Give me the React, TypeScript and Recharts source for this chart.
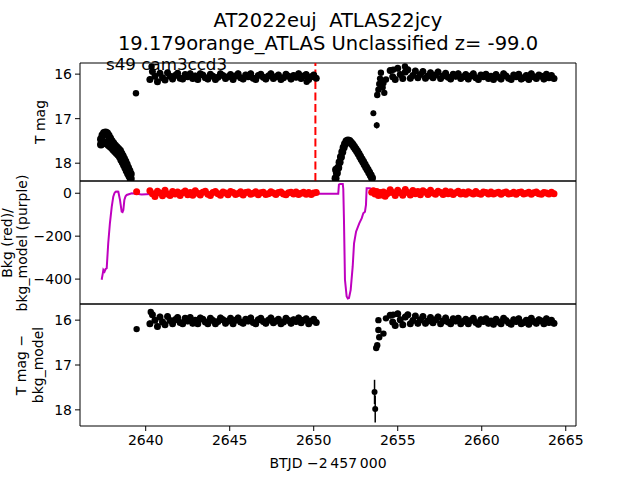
import {
  ComposedChart,
  Scatter,
  Line,
  XAxis,
  YAxis,
  ReferenceArea,
  ReferenceLine,
  ErrorBar,
} from "recharts";

const font = "DejaVu Sans, sans-serif";

// time axis is BTJD - 2457000
const xDomain = [2636.09, 2665.61];
const xTicks = [2640, 2645, 2650, 2655, 2660, 2665];
const peakTime = 2650.1;

// cadence of the two orbits (shared by all three panels)
const leftTimes = [
  2640.25, 2640.4, 2640.55, 2640.7, 2640.85, 2641.0, 2641.15, 2641.3, 2641.45, 2641.6,
  2641.75, 2641.9, 2642.05, 2642.2, 2642.35, 2642.5, 2642.65, 2642.8, 2642.95, 2643.1,
  2643.25, 2643.4, 2643.55, 2643.7, 2643.85, 2644.0, 2644.15, 2644.3, 2644.45, 2644.6,
  2644.75, 2644.9, 2645.05, 2645.2, 2645.35, 2645.5, 2645.65, 2645.8, 2645.95, 2646.1,
  2646.25, 2646.4, 2646.55, 2646.7, 2646.85, 2647.0, 2647.15, 2647.3, 2647.45, 2647.6,
  2647.75, 2647.9, 2648.05, 2648.2, 2648.35, 2648.5, 2648.65, 2648.8, 2648.95, 2649.1,
  2649.25, 2649.4, 2649.55, 2649.7, 2649.85, 2650.0, 2650.15,
];
const rightTimes = [
  2654.55, 2654.7, 2654.85, 2655.0, 2655.15, 2655.3, 2655.45, 2655.6, 2655.75, 2655.9,
  2656.05, 2656.2, 2656.35, 2656.5, 2656.65, 2656.8, 2656.95, 2657.1, 2657.25, 2657.4,
  2657.55, 2657.7, 2657.85, 2658.0, 2658.15, 2658.3, 2658.45, 2658.6, 2658.75, 2658.9,
  2659.05, 2659.2, 2659.35, 2659.5, 2659.65, 2659.8, 2659.95, 2660.1, 2660.25, 2660.4,
  2660.55, 2660.7, 2660.85, 2661.0, 2661.15, 2661.3, 2661.45, 2661.6, 2661.75, 2661.9,
  2662.05, 2662.2, 2662.35, 2662.5, 2662.65, 2662.8, 2662.95, 2663.1, 2663.25, 2663.4,
  2663.55, 2663.7, 2663.85, 2664.0, 2664.15, 2664.3,
];

// typical photometric errors of the band points
const magErr = 0.07;
const bkgErr = 6;

// T mag
const magLeft = [
  16.12, 15.94, 16.05, 16.17, 15.98, 16.08, 16.13, 15.97, 16.05, 16.11,
  16.03, 15.98, 16.09, 16.11, 16.01, 16.06, 15.99, 16.1, 16.04, 16.12,
  15.99, 16.02, 16.08, 16.11, 16.0, 16.05, 16.12, 16.07, 15.99, 16.03,
  16.1, 16.06, 16.01, 16.12, 16.04, 15.99, 16.08, 16.11, 16.02, 16.06,
  15.99, 16.09, 16.12, 16.03, 16.0, 16.07, 16.11, 16.04, 15.99, 16.1,
  16.06, 16.02, 16.12, 16.08, 16.0, 16.05, 16.11, 16.03, 16.07, 15.99,
  16.1, 16.04, 16.01, 16.12, 16.06, 16.02, 16.09,
];
const magRight = [
  15.92, 16.06, 16.12, 15.87, 16.01, 16.1, 15.95, 15.9, 16.09, 16.03,
  15.93, 16.08, 16.01, 15.94, 16.09, 16.04, 15.97, 16.08, 16.02, 15.95,
  16.1, 16.04, 15.98, 16.07, 16.11, 16.0, 16.05, 15.99, 16.1, 16.06,
  16.01, 16.11, 16.04, 15.99, 16.08, 16.12, 16.02, 16.06, 16.0, 16.1,
  16.05, 16.12, 16.01, 16.07, 16.11, 15.99, 16.04, 16.09, 16.12, 16.02,
  16.06, 16.0, 16.11, 16.08, 16.03, 16.12, 15.99, 16.06, 16.1, 16.02,
  16.05, 16.11, 16.0, 16.08, 16.03, 16.1,
];
const magExtras = [
  [2639.42, 16.43], [2640.35, 15.83], [2649.58, 16.17],
  [2653.78, 16.47], [2653.85, 16.35], [2653.9, 16.22], [2653.95, 16.1],
  [2654.0, 15.97], [2654.1, 16.3], [2654.15, 16.2], [2654.2, 16.42],
  [2654.3, 16.12], [2654.73, 15.9], [2655.43, 15.83],
];
const magWithErr = [
  [2653.55, 16.88, 0.06],
  [2653.75, 17.15, 0.07],
];
// faint upper-limit arcs around the orbit gaps
const limitUpper = [
  [2637.34, 17.46], [2637.43, 17.37], [2637.52, 17.32], [2637.61, 17.31], [2637.7, 17.33],
  [2637.79, 17.38], [2637.88, 17.44], [2637.97, 17.5], [2638.07, 17.55], [2638.17, 17.6],
  [2638.27, 17.64], [2638.37, 17.68], [2638.47, 17.72], [2638.55, 17.78], [2638.63, 17.84],
  [2638.71, 17.9], [2638.79, 17.96], [2638.87, 18.03], [2638.95, 18.1], [2639.03, 18.17],
  [2639.11, 18.24],
];
const limitLower = [
  [2637.34, 17.58], [2637.43, 17.55], [2637.52, 17.53], [2637.61, 17.54], [2637.7, 17.56],
  [2637.79, 17.59], [2637.88, 17.62], [2637.97, 17.65], [2638.07, 17.69], [2638.17, 17.73],
  [2638.27, 17.77], [2638.37, 17.81], [2638.47, 17.86], [2638.55, 17.92], [2638.63, 17.98],
  [2638.71, 18.04], [2638.79, 18.1], [2638.87, 18.17], [2638.95, 18.23], [2639.03, 18.29],
  [2639.11, 18.35],
];
const limitGap = [
  [2651.3, 18.34], [2651.33, 18.15], [2651.38, 18.22], [2651.46, 18.1], [2651.54, 17.98],
  [2651.62, 17.86], [2651.7, 17.75], [2651.78, 17.65], [2651.86, 17.57], [2651.95, 17.51],
  [2652.04, 17.49], [2652.13, 17.5], [2652.22, 17.54], [2652.31, 17.58], [2652.4, 17.63],
  [2652.49, 17.68], [2652.58, 17.73], [2652.67, 17.79], [2652.76, 17.85], [2652.85, 17.91],
  [2652.94, 17.97], [2653.03, 18.03], [2653.12, 18.09], [2653.21, 18.15], [2653.3, 18.21],
  [2653.39, 18.27], [2653.47, 18.33],
];

// background (red) and background model (purple)
const bkgLeft = [
  12, -2, -15, 9, 1, -12, 14, -3, -10, 8,
  -4, 6, -11, 2, 10, -7, 4, -9, 11, 0,
  -8, 5, 9, -5, -10, 3, 8, -2, -9, 6,
  1, -7, 8, 4, -6, -1, 7, -8, 3, 6,
  -5, 0, 7, -7, 2, 5, -6, -2, 7, 1,
  -6, 4, 6, -4, -7, 2, 5, -3, 6, -6,
  0, 5, -5, 3, -6, 1, 4,
];
const bkgRight = [
  16, 3, -10, 14, 2, -9, 17, 4, -8, 13,
  -2, 8, -7, 12, 5, -6, 14, 1, -5, 9,
  3, -6, 10, -2, 7, -6, 2, 9, -4, 5,
  -5, 7, 1, -4, 8, -1, -5, 6, 3, -4,
  6, -3, 1, 5, -5, 2, 6, -4, -1, 5,
  -5, 3, 6, -3, 0, 5, -5, 2, 6, -2,
  -5, 4, 1, -4, 5, -2,
];
const bkgExtras = [
  [2639.46, 7], [2653.45, 5], [2653.55, 12], [2653.65, -3], [2653.75, 8],
  [2653.85, -10], [2653.95, 3], [2654.05, -8], [2654.15, 6], [2654.25, -14],
  [2654.35, -4], [2654.45, 2],
];
const modelTimes = [
  2637.38, 2637.45, 2637.48, 2637.55, 2637.62, 2637.68, 2637.77, 2637.87, 2637.98, 2638.07,
  2638.14, 2638.21, 2638.3, 2638.37, 2638.47, 2638.57, 2638.62, 2638.67, 2638.73, 2638.8,
  2638.87, 2639.17, 2639.46, 2639.76, 2640.3, 2641.5, 2643.0, 2645.0, 2647.0, 2649.0,
  2651.46, 2651.5, 2651.57, 2651.73, 2651.76, 2651.8, 2651.86, 2651.96, 2652.03, 2652.1,
  2652.2, 2652.32, 2652.4, 2652.52, 2652.71, 2652.86, 2652.95, 2653.05, 2653.11, 2653.15,
  2653.35, 2653.55, 2653.95, 2654.54, 2656.0, 2658.0, 2660.0, 2662.0, 2664.36,
];
const modelValues = [
  -403, -372, -357, -365, -352, -349, -233, -140, -62, -16,
  0, 7, 8, 7, -31, -86, -88, -78, -31, -14,
  -8, 0, -3, -6, -4, -3, -2, -2, -2, -2,
  -2, 40, 43, 43, 20, -124, -403, -481, -490, -488,
  -450, -341, -233, -179, -140, -116, -93, -86, -54, 23,
  23, 7, 0, 3, 0, 0, 0, 0, 0,
];

// T mag - bkg_model
const subLeft = [
  16.08, 15.88, 16.0, 16.14, 15.93, 16.04, 16.1, 15.92, 16.01, 16.08,
  15.99, 15.94, 16.05, 16.08, 15.96, 16.02, 15.94, 16.07, 16.0, 16.08,
  15.95, 15.98, 16.04, 16.08, 15.96, 16.01, 16.08, 16.03, 15.95, 15.99,
  16.07, 16.02, 15.96, 16.08, 16.0, 15.95, 16.04, 16.07, 15.98, 16.02,
  15.95, 16.05, 16.08, 15.99, 15.96, 16.03, 16.07, 16.0, 15.95, 16.06,
  16.02, 15.98, 16.08, 16.04, 15.96, 16.01, 16.07, 15.99, 16.03, 15.95,
  16.06, 16.0, 15.97, 16.08, 16.02, 15.98, 16.05,
];
const subRight = [
  15.89, 16.04, 16.12, 15.86, 15.99, 16.1, 15.93, 15.88, 16.08, 16.01,
  15.91, 16.07, 15.99, 15.92, 16.07, 16.02, 15.94, 16.06, 15.99, 15.93,
  16.08, 16.02, 15.95, 16.04, 16.08, 15.97, 16.02, 15.96, 16.08, 16.03,
  15.98, 16.08, 16.01, 15.96, 16.05, 16.09, 15.99, 16.03, 15.97, 16.07,
  16.02, 16.09, 15.98, 16.04, 16.08, 15.96, 16.01, 16.06, 16.09, 15.99,
  16.03, 15.97, 16.08, 16.05, 16.0, 16.09, 15.96, 16.03, 16.07, 15.99,
  16.02, 16.08, 15.97, 16.05, 16.0, 16.07,
];
const subExtras = [
  [2639.46, 16.2], [2640.3, 15.82], [2653.72, 16.62], [2653.78, 16.56],
  [2653.85, 16.0], [2653.85, 16.22], [2653.9, 16.38], [2654.15, 16.3],
  [2654.3, 15.96], [2654.73, 15.88],
];
const subWithErr = [
  [2653.62, 17.6, 0.27],
  [2653.66, 17.98, 0.3],
];

const zip = (ts: number[], vs: number[], e: number) => ts.map((t, i) => ({ t, v: vs[i], e }));
const pairs = (rows: number[][]) => rows.map(([t, v, e]) => ({ t, v, e }));

const dot = (color: string, r: number) => (p: any) =>
  <circle cx={p.cx} cy={p.cy} r={r} fill={color} />;

const tickStyle = { fill: "#000", fontSize: 14, fontFamily: font };
const minus = (v: number) => (v < 0 ? "\u2212" + Math.abs(v) : String(v));

function VLabel({ x, y, text }: { x: number; y: number; text: string }) {
  return (
    <div
      style={{
        position: "absolute",
        left: x,
        top: y,
        transform: "translate(-50%, -50%) rotate(-90deg)",
        whiteSpace: "nowrap",
        fontSize: 14,
        lineHeight: "16px",
      }}
    >
      {text}
    </div>
  );
}

const titleStyle = {
  position: "absolute" as const,
  left: 28,
  width: 600,
  textAlign: "center" as const,
  fontSize: 19.5,
  lineHeight: "23px",
  whiteSpace: "pre" as const,
};

export default function App() {
  const magBand = [...zip(leftTimes, magLeft, magErr), ...zip(rightTimes, magRight, magErr)];
  const bkgBand = [...zip(leftTimes, bkgLeft, bkgErr), ...zip(rightTimes, bkgRight, bkgErr)];
  const subBand = [...zip(leftTimes, subLeft, magErr), ...zip(rightTimes, subRight, magErr)];
  const model = zip(modelTimes, modelValues, 0);
  const limits = [...pairs(limitUpper), ...pairs(limitLower), ...pairs(limitGap)];

  const y1 = [15.75, 18.4];
  const y2 = [-516, 57];
  const y3 = [15.64, 18.36];

  return (
    <div
      style={{
        position: "absolute",
        left: 0,
        top: 0,
        width: 640,
        height: 480,
        background: "#fff",
        overflow: "hidden",
        fontFamily: font,
        color: "#000",
      }}
    >
      {/* panel 1: T mag */}
      <div style={{ position: "absolute", left: 0, top: 53 }}>
        <ComposedChart width={640} height={138} margin={{ top: 10, right: 64, bottom: 10, left: 0 }}>
          <XAxis type="number" dataKey="t" domain={xDomain} allowDataOverflow hide />
          <YAxis
            type="number"
            dataKey="v"
            domain={y1}
            reversed
            allowDataOverflow
            ticks={[16, 17, 18]}
            interval={0}
            width={80}
            tickSize={5}
            tickMargin={3}
            axisLine={false}
            tickLine={{ stroke: "#000" }}
            tick={tickStyle}
          />
          <Scatter data={limits} dataKey="v" shape={dot("#000", 4)} isAnimationActive={false} />
          <Scatter data={magBand} dataKey="v" shape={dot("#000", 3.5)} isAnimationActive={false}>
            <ErrorBar dataKey="e" direction="y" width={0} stroke="#000" strokeWidth={1.5} />
          </Scatter>
          <Scatter data={pairs(magExtras)} dataKey="v" shape={dot("#000", 3.2)} isAnimationActive={false} />
          <Scatter data={pairs(magWithErr)} dataKey="v" shape={dot("#000", 3)} isAnimationActive={false}>
            <ErrorBar dataKey="e" direction="y" width={0} stroke="#000" strokeWidth={1.5} />
          </Scatter>
          <ReferenceLine x={peakTime} stroke="#ff0000" strokeWidth={2} strokeDasharray="8 3.5" />
          <ReferenceArea x1={xDomain[0]} x2={xDomain[1]} y1={y1[0]} y2={y1[1]} fill="none" stroke="#000" />
        </ComposedChart>
      </div>

      {/* panel 2: background and model */}
      <div style={{ position: "absolute", left: 0, top: 171 }}>
        <ComposedChart width={640} height={143} margin={{ top: 10, right: 64, bottom: 10, left: 0 }}>
          <XAxis type="number" dataKey="t" domain={xDomain} allowDataOverflow hide />
          <YAxis
            type="number"
            dataKey="v"
            domain={y2}
            allowDataOverflow
            ticks={[-400, -200, 0]}
            interval={0}
            width={80}
            tickSize={5}
            tickMargin={3}
            axisLine={false}
            tickLine={{ stroke: "#000" }}
            tick={tickStyle}
            tickFormatter={minus}
          />
          <Scatter data={bkgBand} dataKey="v" shape={dot("#ff0000", 3.5)} isAnimationActive={false}>
            <ErrorBar dataKey="e" direction="y" width={0} stroke="#ff0000" strokeWidth={1.5} />
          </Scatter>
          <Scatter data={pairs(bkgExtras)} dataKey="v" shape={dot("#ff0000", 3.5)} isAnimationActive={false} />
          <Line
            data={model}
            dataKey="v"
            type="linear"
            stroke="#bf00bf"
            strokeWidth={2}
            dot={false}
            isAnimationActive={false}
          />
          <ReferenceArea x1={xDomain[0]} x2={xDomain[1]} y1={y2[0]} y2={y2[1]} fill="none" stroke="#000" />
        </ComposedChart>
      </div>

      {/* panel 3: T mag - bkg_model */}
      <div style={{ position: "absolute", left: 0, top: 294 }}>
        <ComposedChart width={640} height={162} margin={{ top: 10, right: 64, bottom: 0, left: 0 }}>
          <XAxis
            type="number"
            dataKey="t"
            domain={xDomain}
            allowDataOverflow
            ticks={xTicks}
            interval={0}
            height={30}
            tickSize={5}
            tickMargin={4}
            axisLine={false}
            tickLine={{ stroke: "#000" }}
            tick={tickStyle}
          />
          <YAxis
            type="number"
            dataKey="v"
            domain={y3}
            reversed
            allowDataOverflow
            ticks={[16, 17, 18]}
            interval={0}
            width={80}
            tickSize={5}
            tickMargin={3}
            axisLine={false}
            tickLine={{ stroke: "#000" }}
            tick={tickStyle}
          />
          <Scatter data={subBand} dataKey="v" shape={dot("#000", 3.5)} isAnimationActive={false}>
            <ErrorBar dataKey="e" direction="y" width={0} stroke="#000" strokeWidth={1.5} />
          </Scatter>
          <Scatter data={pairs(subExtras)} dataKey="v" shape={dot("#000", 3.2)} isAnimationActive={false} />
          <Scatter data={pairs(subWithErr)} dataKey="v" shape={dot("#000", 3)} isAnimationActive={false}>
            <ErrorBar dataKey="e" direction="y" width={0} stroke="#000" strokeWidth={1.5} />
          </Scatter>
          <ReferenceArea x1={xDomain[0]} x2={xDomain[1]} y1={y3[0]} y2={y3[1]} fill="none" stroke="#000" />
        </ComposedChart>
      </div>

      {/* titles and labels */}
      <div style={{ ...titleStyle, top: 9 }}>{"AT2022euj  ATLAS22jcy"}</div>
      <div style={{ ...titleStyle, top: 32 }}>{"19.179orange_ATLAS Unclassified z= -99.0"}</div>
      <div style={{ position: "absolute", left: 106, top: 54, fontSize: 16.7, lineHeight: "20px", whiteSpace: "pre" }}>
        s49 cam3ccd3
      </div>
      <VLabel x={40} y={122} text="T mag" />
      <VLabel x={7} y={242.5} text="Bkg (red)/" />
      <VLabel x={22} y={242.5} text="bkg_model (purple)" />
      <VLabel x={21} y={365} text={"T mag \u2212"} />
      <VLabel x={38} y={365} text="bkg_model" />
      <div style={{ position: "absolute", left: 28, top: 455, width: 600, textAlign: "center", fontSize: 14, lineHeight: "16px" }}>
        {"BTJD \u22122\u2009457\u2009000"}
      </div>
    </div>
  );
}
